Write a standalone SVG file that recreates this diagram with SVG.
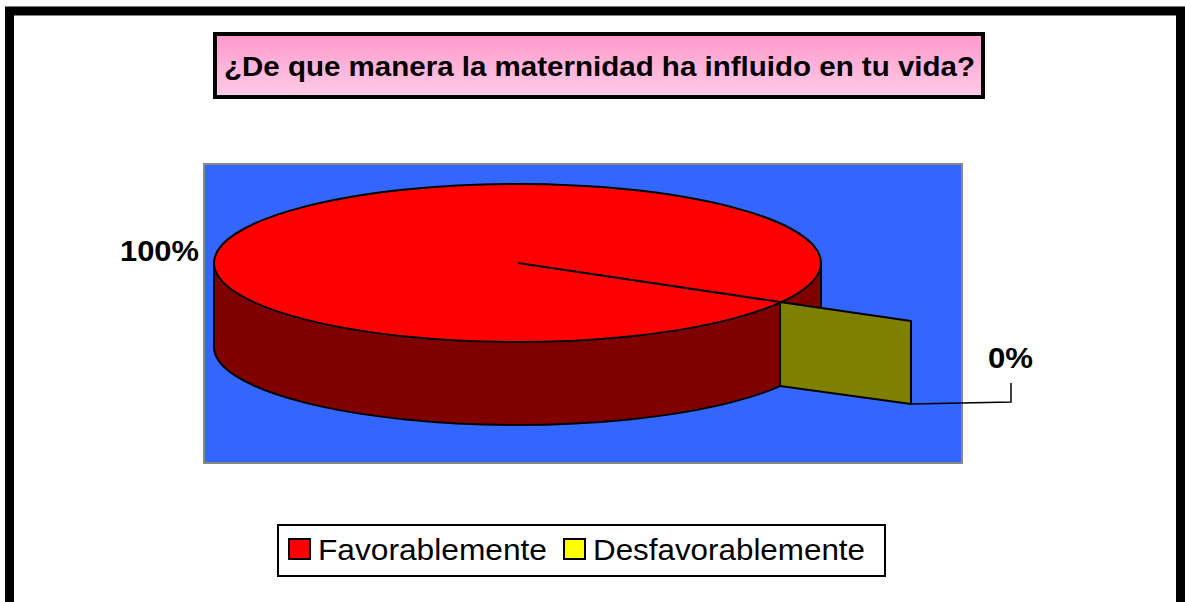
<svg xmlns="http://www.w3.org/2000/svg" width="1185" height="602" viewBox="0 0 1185 602">
<defs>
<linearGradient id="pink" x1="0" y1="0" x2="0" y2="1">
<stop offset="0" stop-color="#ff99cc"/>
<stop offset="1" stop-color="#ffcce6"/>
</linearGradient>
</defs>
<style>
.lbl{font-family:"Liberation Sans",Arial,sans-serif;font-weight:bold;fill:#000}
.leg{font-family:"Liberation Sans",Arial,sans-serif;fill:#000}
.edge{stroke:#000;stroke-width:2;stroke-linejoin:round}
</style>
<rect x="0" y="0" width="1185" height="602" fill="#fff"/>
<path d="M9.5,602 V11 H1180.5 V602" fill="none" stroke="#000" stroke-width="9"/>
<rect x="1178" y="7" width="5" height="595" fill="#000"/>
<g id="title">
<rect x="215" y="34" width="768" height="63" fill="url(#pink)" stroke="#000" stroke-width="4"/>
<text class="lbl" x="224" y="76" font-size="27.5" textLength="751" lengthAdjust="spacingAndGlyphs">¿De que manera la maternidad ha influido en tu vida?</text>
</g>
<g id="plot">
<rect x="204" y="164" width="758" height="299" fill="#3366ff" stroke="#888" stroke-width="2"/>
</g>
<g id="favorable">
<path class="edge" d="M214,263 L214,347 A303.5,78 0 0 0 821,347 L821,263 Z" fill="#800000"/>
<ellipse class="edge" cx="517.5" cy="263" rx="303.5" ry="79" fill="#ff0000"/>
</g>
<g id="desfavorable">
<path class="edge" d="M780,302 L911,321 L911,404 L780,386 Z" fill="#808000"/>
</g>
<g id="connectors">
<line x1="518" y1="263" x2="780" y2="302" stroke="#000" stroke-width="2"/>
<polyline points="911,404 1011,402 1011,383" fill="none" stroke="#000" stroke-width="1.5"/>
</g>
<g id="labels">
<text class="lbl" x="120" y="261" font-size="30" textLength="79" lengthAdjust="spacingAndGlyphs">100%</text>
<text class="lbl" x="988" y="368" font-size="30" textLength="45" lengthAdjust="spacingAndGlyphs">0%</text>
</g>
<g id="legend">
<rect x="278" y="525" width="607" height="51" fill="#fff" stroke="#000" stroke-width="2"/>
<rect x="289" y="539" width="21" height="20" fill="#ff0000" stroke="#000" stroke-width="2"/>
<text class="leg" x="318" y="560" font-size="30" textLength="229" lengthAdjust="spacingAndGlyphs">Favorablemente</text>
<rect x="564" y="539" width="21" height="20" fill="#ffff00" stroke="#000" stroke-width="2"/>
<text class="leg" x="593" y="560" font-size="30" textLength="272" lengthAdjust="spacingAndGlyphs">Desfavorablemente</text>
</g>
</svg>
